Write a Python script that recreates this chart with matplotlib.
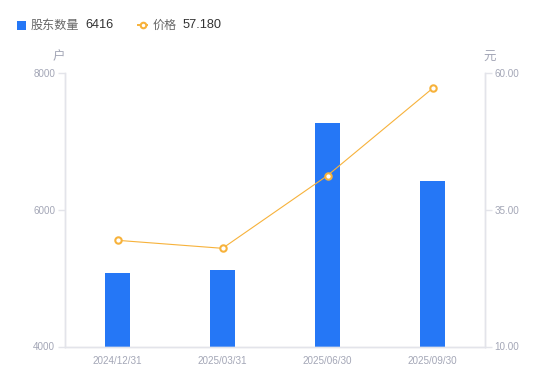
import matplotlib
matplotlib.use("Agg")
import matplotlib.pyplot as plt
from matplotlib.lines import Line2D
from matplotlib.patches import Rectangle

plt.rcParams['font.family'] = ['Liberation Sans', 'Noto Sans CJK SC', 'DejaVu Sans']

categories = ["2024/12/31", "2025/03/31", "2025/06/30", "2025/09/30"]
holders = [5080, 5124, 7263, 6416]
prices = [29.41, 27.95, 41.26, 57.18]
left_ticks = [4000, 6000, 8000]
right_ticks = [10.00, 35.00, 60.00]
legend_holders_label = "股东数量"
legend_price_label = "价格"
legend_holders_value = "6416"
legend_price_value = "57.180"
left_unit = "户"
right_unit = "元"

BLUE = "#2577F6"
ORANGE = "#F7B23B"
GRID = "#E3E4EA"
TICK = "#A3A6B6"
TEXT = "#333333"
LEG = "#666666"

W, H = 550, 381
fig = plt.figure(figsize=(W / 100, H / 100), dpi=100)
L, R, T, B = 65, 485, 73, 346.5
ax = fig.add_axes([L / W, 1 - B / H, (R - L) / W, (B - T) / H])
ax2 = ax.twinx()

x = list(range(len(categories)))
ax.bar(x, holders, width=0.235, color=BLUE, zorder=2)
ax.set_xlim(-0.5, len(categories) - 0.5)
ax.set_ylim(left_ticks[0], left_ticks[-1])
ax.set_yticks(left_ticks)
ax.set_yticklabels([str(v) for v in left_ticks])
ax.set_xticks(x)
ax.set_xticklabels(categories)

ax2.plot(x, prices, color=ORANGE, lw=0.8, marker="o", ms=4.6,
         mfc="white", mec=ORANGE, mew=1.5, zorder=3)
ax2.set_ylim(right_ticks[0], right_ticks[-1])
ax2.set_yticks(right_ticks)
ax2.set_yticklabels([f"{v:.2f}" for v in right_ticks])

for a in (ax, ax2):
    a.spines["top"].set_visible(False)
    for s in ("left", "right", "bottom"):
        a.spines[s].set_color(GRID)
        a.spines[s].set_linewidth(1.0)
ax.tick_params(axis="y", length=5, width=1, color=GRID, labelcolor=TICK,
               labelsize=7.1, pad=2)
ax2.tick_params(axis="y", length=5, width=1, color=GRID, labelcolor=TICK,
                labelsize=7.1, pad=2)
ax.tick_params(axis="x", length=0, labelcolor=TICK, labelsize=7.1, pad=7)

fig.text(58.5 / W, 1 - 57 / H, left_unit, ha="center", va="center",
         color=TICK, fontsize=9, family=['Noto Sans CJK SC', 'DejaVu Sans'])
fig.text(490 / W, 1 - 57 / H, right_unit, ha="center", va="center",
         color=TICK, fontsize=9, family=['Noto Sans CJK SC', 'DejaVu Sans'])

# legend
ly = 1 - 25 / H
fig.patches.append(Rectangle((17 / W, 1 - 29.5 / H), 9 / W, 9 / H,
                             transform=fig.transFigure, facecolor=BLUE,
                             edgecolor="none"))
fig.text(31 / W, ly, legend_holders_label, ha="left", va="center", color=LEG,
         fontsize=8.7, family=['Noto Sans CJK SC', 'DejaVu Sans'])
fig.text(85 / W, ly, legend_holders_value, ha="left", va="center", color=TEXT,
         fontsize=9.2)
fig.lines.append(Line2D([138 / W, 147 / W], [ly, ly], transform=fig.transFigure,
                        color=ORANGE, lw=1.4))
fig.lines.append(Line2D([142.5 / W], [ly], transform=fig.transFigure,
                        color=ORANGE, marker="o", ms=4, mfc="white", mec=ORANGE,
                        mew=1.5))
fig.text(153 / W, ly, legend_price_label, ha="left", va="center", color=LEG,
         fontsize=8.7, family=['Noto Sans CJK SC', 'DejaVu Sans'])
fig.text(183 / W, ly, legend_price_value, ha="left", va="center", color=TEXT,
         fontsize=9.2)

fig.savefig("out.png", dpi=100)
